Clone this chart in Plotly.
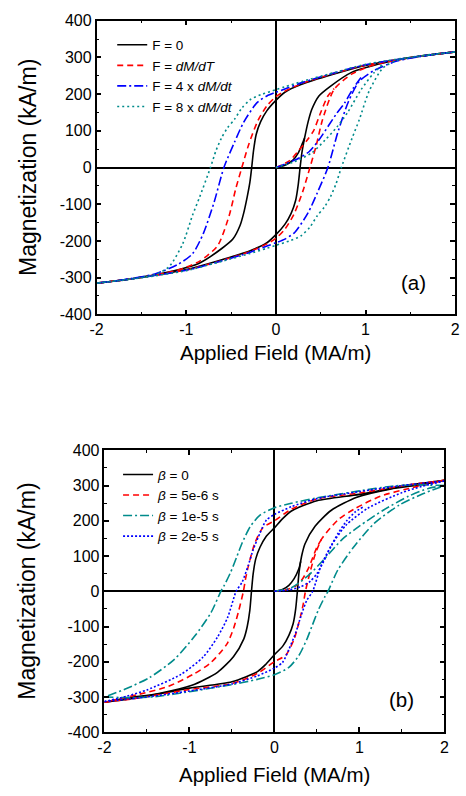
import plotly.graph_objects as go

# ---------------- tick labels ----------------
x_tickvals = [-2, -1, 0, 1, 2]
x_ticktext = ["-2", "-1", "0", "1", "2"]
y_tickvals = [-400, -300, -200, -100, 0, 100, 200, 300, 400]
y_ticktext = ["-400", "-300", "-200", "-100", "0", "100", "200", "300", "400"]

# ---------------- panel (a) : F series ----------------
a_names = ["F = 0", "F = <i>dM/dT</i>", "F = 4 x <i>dM/dt</i>", "F = 8 x <i>dM/dt</i>"]

# F = 0
a0_init_H = [0.0, 0.1, 0.19, 0.25, 0.29, 0.32]
a0_init_M = [0, 6, 20, 40, 62, 80]
a0_desc_H = [2.0, 1.6, 1.0, 0.64, 0.28, 0.1, 0.0, -0.1, -0.17, -0.22, -0.25, -0.27, -0.29, -0.32, -0.36, -0.40, -0.48, -0.6, -0.85, -1.2, -1.6, -2.0]
a0_desc_M = [315, 303, 278, 254, 226, 205, 183, 155, 125, 90, 45, 0, -40, -80, -125, -158, -195, -220, -260, -285, -303, -315]
a0_asc_H = [-2.0, -1.6, -1.0, -0.64, -0.28, -0.1, 0.0, 0.1, 0.17, 0.22, 0.25, 0.27, 0.29, 0.32, 0.36, 0.40, 0.48, 0.6, 0.85, 1.2, 1.6, 2.0]
a0_asc_M = [-315, -303, -278, -254, -226, -205, -183, -155, -125, -90, -45, 0, 40, 80, 125, 158, 195, 220, 260, 285, 303, 315]

# F = dM/dT
a1_init_H = [0.0, 0.15, 0.26, 0.35, 0.42, 0.5, 0.58, 0.65]
a1_init_M = [0, 18, 48, 75, 100, 150, 195, 215]
a1_desc_H = [2.0, 1.6, 1.0, 0.64, 0.3, 0.1, 0.0, -0.1, -0.2, -0.3, -0.38, -0.45, -0.52, -0.65, -0.85, -1.1, -1.6, -2.0]
a1_desc_M = [315, 303, 279, 256, 230, 208, 193, 168, 128, 65, 0, -60, -130, -213, -255, -280, -303, -315]
a1_asc_H = [-2.0, -1.6, -1.0, -0.64, -0.3, -0.1, 0.0, 0.1, 0.2, 0.3, 0.38, 0.45, 0.52, 0.65, 0.85, 1.1, 1.6, 2.0]
a1_asc_M = [-315, -303, -279, -256, -230, -208, -193, -168, -128, -65, 0, 60, 130, 213, 255, 280, 303, 315]

# F = 4 x dM/dt
a2_init_H = [0.0, 0.13, 0.26, 0.37, 0.48, 0.59, 0.68, 0.77, 0.86, 0.95]
a2_init_M = [0, 12, 26, 43, 75, 115, 148, 177, 215, 245]
a2_desc_H = [2.0, 1.6, 1.0, 0.64, 0.3, 0.1, 0.0, -0.1, -0.21, -0.36, -0.46, -0.58, -0.69, -0.81, -0.93, -1.1, -1.35, -1.7, -2.0]
a2_desc_M = [315, 303, 280, 257, 232, 214, 205, 195, 177, 123, 70, 0, -95, -180, -235, -265, -290, -306, -315]
a2_asc_H = [-2.0, -1.6, -1.0, -0.64, -0.3, -0.1, 0.0, 0.1, 0.21, 0.36, 0.46, 0.58, 0.69, 0.81, 0.93, 1.1, 1.35, 1.7, 2.0]
a2_asc_M = [-315, -303, -280, -257, -232, -214, -205, -195, -177, -123, -70, 0, 95, 180, 235, 265, 290, 306, 315]

# F = 8 x dM/dt
a3_init_H = [0.0, 0.2, 0.4, 0.55, 0.68, 0.8, 0.95, 1.09, 1.2]
a3_init_M = [0, 15, 40, 75, 110, 150, 212, 257, 283]
a3_desc_H = [2.0, 1.6, 1.0, 0.64, 0.3, 0.1, 0.0, -0.15, -0.28, -0.38, -0.46, -0.54, -0.61, -0.67, -0.73, -0.85, -0.93, -1.04, -1.19, -1.35, -1.7, -2.0]
a3_desc_M = [315, 304, 281, 258, 235, 220, 212, 200, 186, 162, 132, 108, 79, 45, 0, -80, -130, -208, -270, -292, -306, -315]
a3_asc_H = [-2.0, -1.6, -1.0, -0.64, -0.3, -0.1, 0.0, 0.15, 0.28, 0.38, 0.46, 0.54, 0.61, 0.67, 0.73, 0.85, 0.93, 1.04, 1.19, 1.35, 1.7, 2.0]
a3_asc_M = [-315, -304, -281, -258, -235, -220, -212, -200, -186, -162, -132, -108, -79, -45, 0, 80, 130, 208, 270, 292, 306, 315]

# ---------------- panel (b) : beta series ----------------
b_names = ["<i>β</i> = 0", "<i>β</i> = 5e-6 s", "<i>β</i> = 1e-5 s", "<i>β</i> = 2e-5 s"]

# beta = 0
b0_init_H = [0.0, 0.1, 0.17, 0.23, 0.286, 0.31]
b0_init_M = [0, 6, 17, 35, 63, 85]
b0_desc_H = [2.0, 1.6, 1.0, 0.5, 0.2, 0.1, 0.0, -0.1, -0.17, -0.22, -0.25, -0.27, -0.29, -0.32, -0.36, -0.48, -0.67, -0.97, -1.36, -1.74, -2.0]
b0_desc_M = [315, 302, 275, 257, 228, 207, 180, 155, 125, 92, 50, 0, -55, -100, -135, -185, -230, -267, -290, -303, -315]
b0_asc_H = [-2.0, -1.6, -1.0, -0.5, -0.2, -0.1, 0.0, 0.1, 0.17, 0.22, 0.25, 0.27, 0.29, 0.32, 0.36, 0.48, 0.67, 0.97, 1.36, 1.74, 2.0]
b0_asc_M = [-315, -302, -275, -257, -228, -207, -180, -155, -125, -92, -50, 0, 55, 100, 135, 185, 230, 267, 290, 303, 315]

# beta = 5e-6 s
b1_init_H = [0.0, 0.15, 0.25, 0.33, 0.4, 0.45, 0.5, 0.56]
b1_init_M = [0, 5, 15, 35, 65, 95, 125, 150]
b1_desc_H = [2.0, 1.6, 1.0, 0.5, 0.2, 0.0, -0.134, -0.23, -0.306, -0.34, -0.365, -0.42, -0.48, -0.56, -0.75, -0.95, -1.25, -1.62, -2.0]
b1_desc_M = [315, 303, 279, 262, 233, 200, 181, 137, 72, 35, 0, -55, -105, -150, -203, -235, -270, -294, -315]
b1_asc_H = [-2.0, -1.6, -1.0, -0.5, -0.2, 0.0, 0.134, 0.23, 0.306, 0.34, 0.365, 0.42, 0.48, 0.56, 0.75, 0.95, 1.25, 1.62, 2.0]
b1_asc_M = [-315, -303, -279, -262, -233, -200, -181, -137, -72, -35, 0, 55, 105, 150, 203, 235, 270, 294, 315]

# beta = 1e-5 s
b2_init_H = [0.0, 0.2, 0.4, 0.6, 0.8, 1.0, 1.28, 1.58, 1.81, 2.0]
b2_init_M = [0, 10, 45, 95, 148, 185, 230, 270, 292, 300]
b2_desc_H = [2.0, 1.7, 1.4, 1.0, 0.5, 0.2, 0.0, -0.17, -0.286, -0.38, -0.44, -0.515, -0.59, -0.63, -0.745, -0.94, -1.18, -1.47, -1.74, -2.0]
b2_desc_M = [300, 302, 299, 285, 265, 250, 237, 216, 183, 137, 100, 54, 17, 0, -60, -128, -194, -245, -276, -300]
b2_asc_H = [-2.0, -1.7, -1.4, -1.0, -0.5, -0.2, 0.0, 0.17, 0.286, 0.38, 0.44, 0.515, 0.59, 0.63, 0.745, 0.94, 1.18, 1.47, 1.74, 2.0]
b2_asc_M = [-300, -302, -299, -285, -265, -250, -237, -216, -183, -137, -100, -54, -17, 0, 60, 128, 194, 245, 276, 300]

# beta = 2e-5 s
b3_init_H = [0.0, 0.15, 0.3, 0.42, 0.5, 0.58, 0.66, 0.75, 0.85, 0.95, 1.05]
b3_init_M = [0, 3, 12, 28, 50, 85, 125, 165, 200, 225, 240]
b3_desc_H = [2.0, 1.5, 1.0, 0.5, 0.2, 0.0, -0.095, -0.17, -0.25, -0.31, -0.38, -0.45, -0.55, -0.67, -0.84, -1.1, -1.5, -1.74, -2.0]
b3_desc_M = [313, 300, 283, 263, 240, 218, 202, 165, 118, 72, 26, 0, -74, -130, -187, -236, -280, -298, -313]
b3_asc_H = [-2.0, -1.5, -1.0, -0.5, -0.2, 0.0, 0.095, 0.17, 0.25, 0.31, 0.38, 0.45, 0.55, 0.67, 0.84, 1.1, 1.5, 1.74, 2.0]
b3_asc_M = [-313, -300, -283, -263, -240, -218, -202, -165, -118, -72, -26, 0, 74, 130, 187, 236, 280, 298, 313]

# ---------------- styles ----------------
TEAL = "#008B8B"
a_styles = [("black", "solid"), ("#FF0000", "6px,4px"), ("#0000FF", "9px,3px,2px,3px"), (TEAL, "2px,3px")]
b_styles = [("black", "solid"), ("#FF0000", "6px,4px"), (TEAL, "9px,3px,2px,3px"), ("#0000FF", "2px,2px")]

a_data = [
    (a0_init_H, a0_init_M, a0_desc_H, a0_desc_M, a0_asc_H, a0_asc_M),
    (a1_init_H, a1_init_M, a1_desc_H, a1_desc_M, a1_asc_H, a1_asc_M),
    (a2_init_H, a2_init_M, a2_desc_H, a2_desc_M, a2_asc_H, a2_asc_M),
    (a3_init_H, a3_init_M, a3_desc_H, a3_desc_M, a3_asc_H, a3_asc_M),
]
b_data = [
    (b0_init_H, b0_init_M, b0_desc_H, b0_desc_M, b0_asc_H, b0_asc_M),
    (b1_init_H, b1_init_M, b1_desc_H, b1_desc_M, b1_asc_H, b1_asc_M),
    (b2_init_H, b2_init_M, b2_desc_H, b2_desc_M, b2_asc_H, b2_asc_M),
    (b3_init_H, b3_init_M, b3_desc_H, b3_desc_M, b3_asc_H, b3_asc_M),
]

fig = go.Figure()


def add_loop(name, d, style, xa, ya, legend):
    iH, iM, dH, dM, aH, aM = d
    x = list(iH) + [None] + list(dH) + [None] + list(aH)
    y = list(iM) + [None] + list(dM) + [None] + list(aM)
    fig.add_trace(go.Scatter(
        x=x, y=y, mode="lines", name=name, xaxis=xa, yaxis=ya, legend=legend,
        line=dict(color=style[0], dash=style[1], width=1.6, shape="spline", smoothing=0.7),
        connectgaps=False, hoverinfo="skip"))


for n, d, s in zip(a_names, a_data, a_styles):
    add_loop(n, d, s, "x", "y", "legend")
for n, d, s in zip(b_names, b_data, b_styles):
    add_loop(n, d, s, "x2", "y2", "legend2")

FONT = "Liberation Sans, Arial, sans-serif"
W, H = 466, 796


def xax(domain, zw, anchor):
    return dict(domain=domain, anchor=anchor, range=[-2, 2], tickmode="array", tickvals=x_tickvals, ticktext=x_ticktext,
                ticks="inside", ticklen=5, tickwidth=1.5, tickcolor="black", ticklabeloverflow="allow",
                minor=dict(dtick=0.5, ticks="inside", ticklen=3, tickwidth=1.2, tickcolor="black"),
                showline=True, linecolor="black", linewidth=1.5, mirror="ticks",
                showgrid=False, zeroline=True, zerolinecolor="black", zerolinewidth=zw,
                tickfont=dict(family=FONT, size=16, color="black"), fixedrange=True)


def yax(domain, zw, anchor):
    return dict(domain=domain, anchor=anchor, range=[-400, 400], tickmode="array", tickvals=y_tickvals, ticktext=y_ticktext,
                ticks="inside", ticklen=5, tickwidth=1.5, tickcolor="black", ticklabeloverflow="allow",
                minor=dict(dtick=50, ticks="inside", ticklen=3, tickwidth=1.2, tickcolor="black"),
                showline=True, linecolor="black", linewidth=1.5, mirror="ticks",
                showgrid=False, zeroline=True, zerolinecolor="black", zerolinewidth=zw,
                tickfont=dict(family=FONT, size=16, color="black"), fixedrange=True)


ann = []
for yc in (163, 596):
    ann.append(dict(text="Magnetization (kA/m)", x=21 / W, y=1 - yc / H, xref="paper", yref="paper",
                    textangle=-90, showarrow=False, xanchor="center", yanchor="middle",
                    font=dict(family=FONT, size=23, color="black")))
for xc, yc in ((276, 352), (275, 783)):
    ann.append(dict(text="Applied Field (MA/m)", x=xc / W, y=1 - yc / H, xref="paper", yref="paper",
                    showarrow=False, xanchor="center", yanchor="middle",
                    font=dict(family=FONT, size=20.5, color="black")))
for t, xc, yc in (("(a)", 417, 280), ("(b)", 405, 707)):
    ann.append(dict(text=t, x=xc / W, y=1 - yc / H, xref="paper", yref="paper",
                    showarrow=False, xanchor="center", yanchor="middle",
                    font=dict(family=FONT, size=20.5, color="black")))

leg_common = dict(bgcolor="rgba(0,0,0,0)", borderwidth=0, xanchor="left", yanchor="top",
                  font=dict(family=FONT, size=13.5, color="black"), itemwidth=30, tracegroupgap=0)

fig.update_layout(
    width=W, height=H, margin=dict(l=0, r=0, t=0, b=0),
    paper_bgcolor="white", plot_bgcolor="white",
    xaxis=xax([92 / W, 460 / W], 2, "y"), yaxis=yax([1 - 313 / H, 1 - 13 / H], 2, "x"),
    xaxis2=xax([100 / W, 449 / W], 1.5, "y2"), yaxis2=yax([1 - 740 / H, 1 - 452 / H], 1.5, "x2"),
    annotations=ann,
    legend=dict(x=108 / W, y=1 - 22 / H, **leg_common),
    legend2=dict(x=114 / W, y=1 - 461 / H, **leg_common),
    showlegend=True,
)

fig.write_html("out.html", config={"displayModeBar": False},
               post_script="document.body.style.margin='0px';document.body.style.overflow='hidden';")
